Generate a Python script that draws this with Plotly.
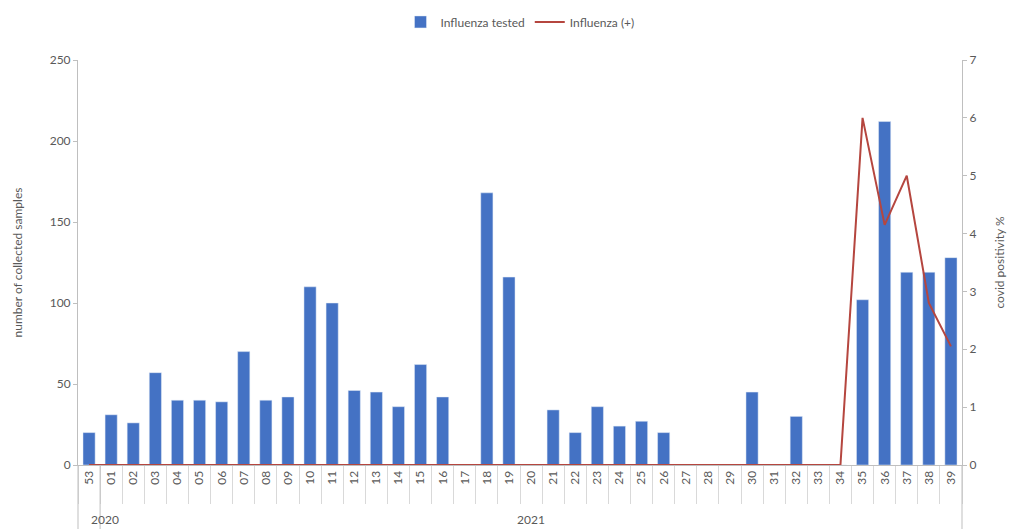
""" Weekly influenza samples and positivity, 2020-2021 """
import plotly.graph_objects as go

weeks = ['53', '01', '02', '03', '04', '05', '06', '07', '08', '09',
         '10', '11', '12', '13', '14', '15', '16', '17', '18', '19',
         '20', '21', '22', '23', '24', '25', '26', '27', '28', '29',
         '30', '31', '32', '33', '34', '35', '36', '37', '38', '39']
tested = [20, 31, 26, 57, 40, 40, 39, 70, 40, 42,
          110, 100, 46, 45, 36, 62, 42, 0, 168, 116,
          0, 34, 20, 36, 24, 27, 20, 0, 0, 0,
          45, 0, 30, 0, 0, 102, 212, 119, 119, 128]
positive_pct = [0] * 35 + [6, 4.15, 5, 2.8, 2.05]
years = ['2020', '2021']
year_first_week = [0, 1]   # index of each year's first week
year_weeks = [1, 39]       # number of weeks in each year

FONT = 'Lato'
GREY = '#595959'
AXIS = '#BFBFBF'
n = len(weeks)

fig = go.Figure()
fig.add_trace(go.Bar(x=weeks, y=tested, name='Influenza tested',
                     marker={'color': '#4472C4'}))
fig.add_trace(go.Scatter(x=weeks, y=positive_pct, name='Influenza (+)',
                         mode='lines', yaxis='y2',
                         line={'color': '#B5463F', 'width': 2}))

# year labels under the week labels, centred on their group
for year, first, count in zip(years, year_first_week, year_weeks):
    fig.add_annotation(x=(first + count / 2) / n, y=-0.135,
                       xref='paper', yref='paper',
                       text=year, showarrow=False, yanchor='middle',
                       font={'size': 12, 'color': GREY})

# group separators (start, between years, end)
for pos in [0, 1, n]:
    fig.add_shape(type='line', xref='paper', yref='paper',
                  x0=pos / n, x1=pos / n, y0=0, y1=-0.16,
                  line={'color': AXIS, 'width': 1})

# page body adds an 8px margin, so the figure is a bit smaller than the window
fig.update_layout(
    width=1010, height=521,
    margin={'l': 70, 'r': 56, 't': 52, 'b': 64, 'autoexpand': False},
    plot_bgcolor='white', paper_bgcolor='white',
    font={'family': FONT, 'size': 12, 'color': GREY},
    bargap=0.45,
    legend={'orientation': 'h', 'x': 0.5, 'xanchor': 'center',
            'y': 1.094, 'yanchor': 'middle', 'font': {'size': 12}},
    xaxis={'type': 'category', 'tickangle': -90, 'showgrid': False,
           'range': [-0.5, n - 0.5], 'automargin': False,
           'showline': True, 'linecolor': AXIS,
           'ticks': 'outside', 'tickson': 'boundaries', 'ticklen': 38,
           'tickcolor': '#D9D9D9', 'tickfont': {'size': 12}},
    yaxis={'range': [0, 250], 'dtick': 50, 'showgrid': False,
           'automargin': False,
           'showline': True, 'linecolor': AXIS, 'ticks': 'outside',
           'ticklen': 4, 'tickcolor': AXIS, 'zeroline': False,
           'title': {'text': 'number of collected samples',
                     'font': {'size': 12}, 'standoff': 24}},
    yaxis2={'range': [0, 7], 'dtick': 1, 'overlaying': 'y', 'side': 'right',
            'automargin': False,
            'showgrid': False, 'showline': True, 'linecolor': AXIS,
            'ticks': 'outside', 'ticklen': 4, 'tickcolor': AXIS,
            'zeroline': False,
            'title': {'text': 'covid positivity %', 'font': {'size': 12},
                      'standoff': 20}},
)

fig.write_html("out.html")
